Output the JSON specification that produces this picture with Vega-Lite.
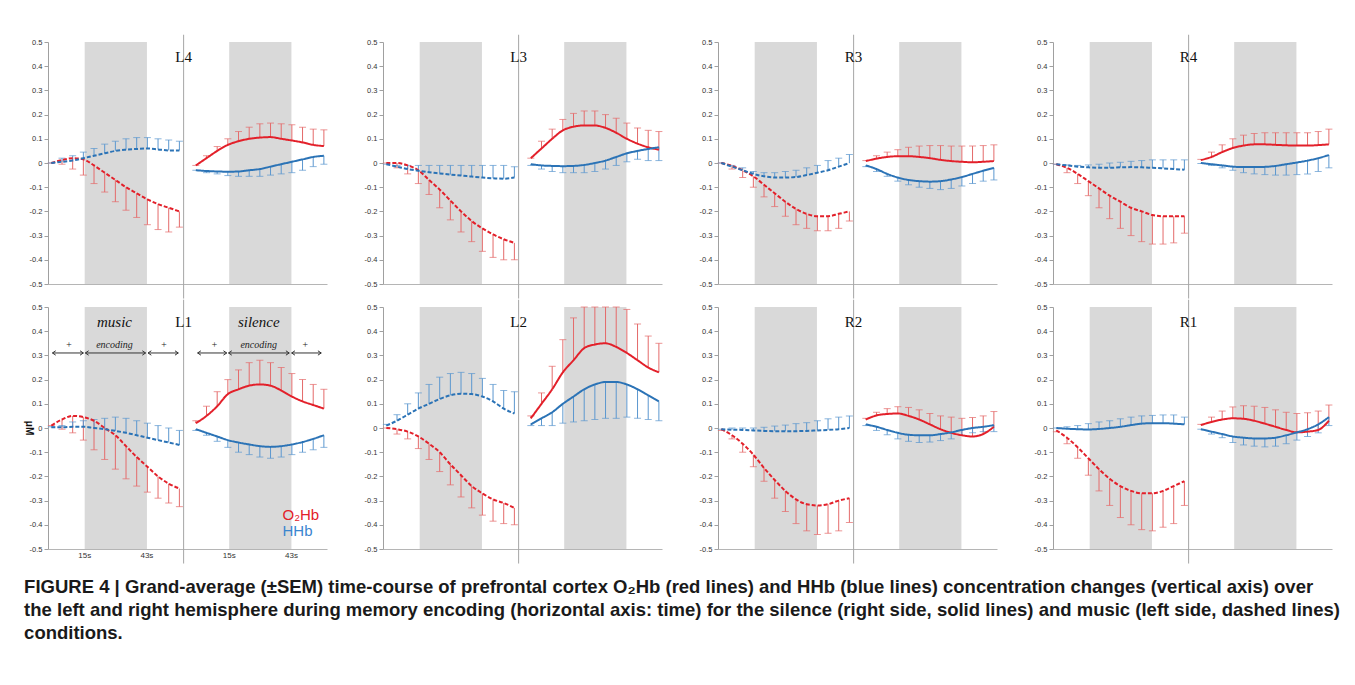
{
  "$schema": "https://vega.github.io/schema/vega-lite/v6.json",
  "background": "white",
  "padding": {"left": 24, "top": 34, "right": 10, "bottom": 5},
  "config": {
    "view": {"stroke": null},
    "axis": {"grid": false, "title": null},
    "axisY": {"labelOverlap": false},
    "axisQuantitative": {"labelOverlap": false},
    "header": {"labels": false, "title": null, "labelFontSize": 0, "labelPadding": 0},
    "headerFacet": {"labels": false, "title": null, "labelFontSize": 0, "labelPadding": 0}
  },
  "title": {
    "text": [
      "FIGURE 4 | Grand-average (±SEM) time-course of prefrontal cortex O₂Hb (red lines) and HHb (blue lines) concentration changes (vertical axis) over",
      "the left and right hemisphere during memory encoding (horizontal axis: time) for the silence (right side, solid lines) and music (left side, dashed lines)",
      "conditions."
    ],
    "orient": "bottom",
    "anchor": "start",
    "font": "Liberation Sans",
    "fontSize": 18.5,
    "fontWeight": "bold",
    "lineHeight": 23,
    "color": "#1a1a1a",
    "offset": 14
  },
  "data": {
    "values": [
      {"k":"s","p":"L4","c":"music","t":0,"o":0,"os":0,"h":0,"hs":0},
      {"k":"s","p":"L4","c":"music","t":4.8,"o":0.012,"os":-0.005,"h":0.005,"hs":0.02},
      {"k":"s","p":"L4","c":"music","t":9.6,"o":0.02,"os":-0.025,"h":0.01,"hs":0.03},
      {"k":"s","p":"L4","c":"music","t":14.4,"o":0.015,"os":-0.05,"h":0.02,"hs":0.045},
      {"k":"s","p":"L4","c":"music","t":19.2,"o":-0.01,"os":-0.085,"h":0.03,"hs":0.06},
      {"k":"s","p":"L4","c":"music","t":24,"o":-0.04,"os":-0.12,"h":0.04,"hs":0.078},
      {"k":"s","p":"L4","c":"music","t":28.8,"o":-0.07,"os":-0.16,"h":0.05,"hs":0.09},
      {"k":"s","p":"L4","c":"music","t":33.6,"o":-0.1,"os":-0.195,"h":0.055,"hs":0.1},
      {"k":"s","p":"L4","c":"music","t":38.4,"o":-0.125,"os":-0.225,"h":0.058,"hs":0.105},
      {"k":"s","p":"L4","c":"music","t":43.2,"o":-0.15,"os":-0.255,"h":0.06,"hs":0.105},
      {"k":"s","p":"L4","c":"music","t":48,"o":-0.17,"os":-0.275,"h":0.056,"hs":0.1},
      {"k":"s","p":"L4","c":"music","t":52.8,"o":-0.185,"os":-0.285,"h":0.052,"hs":0.095},
      {"k":"s","p":"L4","c":"music","t":57.6,"o":-0.2,"os":-0.265,"h":0.052,"hs":0.09},
      {"k":"s","p":"L4","c":"silence","t":65,"o":-0.01,"os":-0.01,"h":-0.03,"hs":-0.03},
      {"k":"s","p":"L4","c":"silence","t":69.8,"o":0.02,"os":0.03,"h":-0.033,"hs":-0.04},
      {"k":"s","p":"L4","c":"silence","t":74.6,"o":0.05,"os":0.068,"h":-0.035,"hs":-0.045},
      {"k":"s","p":"L4","c":"silence","t":79.4,"o":0.075,"os":0.1,"h":-0.036,"hs":-0.052},
      {"k":"s","p":"L4","c":"silence","t":84.2,"o":0.09,"os":0.13,"h":-0.035,"hs":-0.055},
      {"k":"s","p":"L4","c":"silence","t":89,"o":0.1,"os":0.148,"h":-0.03,"hs":-0.055},
      {"k":"s","p":"L4","c":"silence","t":93.8,"o":0.105,"os":0.162,"h":-0.025,"hs":-0.055},
      {"k":"s","p":"L4","c":"silence","t":98.6,"o":0.107,"os":0.165,"h":-0.015,"hs":-0.05},
      {"k":"s","p":"L4","c":"silence","t":103.4,"o":0.1,"os":0.162,"h":-0.005,"hs":-0.045},
      {"k":"s","p":"L4","c":"silence","t":108.2,"o":0.093,"os":0.158,"h":0.005,"hs":-0.04},
      {"k":"s","p":"L4","c":"silence","t":113,"o":0.085,"os":0.148,"h":0.015,"hs":-0.03},
      {"k":"s","p":"L4","c":"silence","t":117.8,"o":0.075,"os":0.14,"h":0.025,"hs":-0.015},
      {"k":"s","p":"L4","c":"silence","t":122.6,"o":0.07,"os":0.137,"h":0.03,"hs":-0.005},

      {"k":"s","p":"L3","c":"music","t":0,"o":0,"os":0,"h":-0.005,"hs":-0.005},
      {"k":"s","p":"L3","c":"music","t":4.8,"o":0,"os":-0.02,"h":-0.015,"hs":-0.01},
      {"k":"s","p":"L3","c":"music","t":9.6,"o":-0.01,"os":-0.045,"h":-0.025,"hs":-0.01},
      {"k":"s","p":"L3","c":"music","t":14.4,"o":-0.03,"os":-0.085,"h":-0.032,"hs":-0.01},
      {"k":"s","p":"L3","c":"music","t":19.2,"o":-0.07,"os":-0.13,"h":-0.038,"hs":-0.01},
      {"k":"s","p":"L3","c":"music","t":24,"o":-0.11,"os":-0.185,"h":-0.043,"hs":-0.01},
      {"k":"s","p":"L3","c":"music","t":28.8,"o":-0.155,"os":-0.235,"h":-0.048,"hs":-0.01},
      {"k":"s","p":"L3","c":"music","t":33.6,"o":-0.2,"os":-0.285,"h":-0.052,"hs":-0.01},
      {"k":"s","p":"L3","c":"music","t":38.4,"o":-0.24,"os":-0.325,"h":-0.056,"hs":-0.01},
      {"k":"s","p":"L3","c":"music","t":43.2,"o":-0.27,"os":-0.365,"h":-0.06,"hs":-0.01},
      {"k":"s","p":"L3","c":"music","t":48,"o":-0.295,"os":-0.39,"h":-0.063,"hs":-0.01},
      {"k":"s","p":"L3","c":"music","t":52.8,"o":-0.315,"os":-0.4,"h":-0.065,"hs":-0.01},
      {"k":"s","p":"L3","c":"music","t":57.6,"o":-0.33,"os":-0.4,"h":-0.06,"hs":-0.015},
      {"k":"s","p":"L3","c":"silence","t":65,"o":0.02,"os":0.02,"h":-0.005,"hs":-0.01},
      {"k":"s","p":"L3","c":"silence","t":69.8,"o":0.06,"os":0.09,"h":-0.01,"hs":-0.025},
      {"k":"s","p":"L3","c":"silence","t":74.6,"o":0.1,"os":0.14,"h":-0.012,"hs":-0.035},
      {"k":"s","p":"L3","c":"silence","t":79.4,"o":0.135,"os":0.18,"h":-0.013,"hs":-0.04},
      {"k":"s","p":"L3","c":"silence","t":84.2,"o":0.15,"os":0.205,"h":-0.012,"hs":-0.04},
      {"k":"s","p":"L3","c":"silence","t":89,"o":0.155,"os":0.215,"h":-0.008,"hs":-0.04},
      {"k":"s","p":"L3","c":"silence","t":93.8,"o":0.155,"os":0.215,"h":0,"hs":-0.035},
      {"k":"s","p":"L3","c":"silence","t":98.6,"o":0.145,"os":0.2,"h":0.01,"hs":-0.025},
      {"k":"s","p":"L3","c":"silence","t":103.4,"o":0.125,"os":0.185,"h":0.025,"hs":-0.01},
      {"k":"s","p":"L3","c":"silence","t":108.2,"o":0.1,"os":0.165,"h":0.04,"hs":0.005},
      {"k":"s","p":"L3","c":"silence","t":113,"o":0.08,"os":0.145,"h":0.05,"hs":0.015},
      {"k":"s","p":"L3","c":"silence","t":117.8,"o":0.065,"os":0.135,"h":0.058,"hs":0.01},
      {"k":"s","p":"L3","c":"silence","t":122.6,"o":0.055,"os":0.13,"h":0.065,"hs":0.01},

      {"k":"s","p":"R3","c":"music","t":0,"o":0,"os":0,"h":0,"hs":0},
      {"k":"s","p":"R3","c":"music","t":4.8,"o":-0.012,"os":-0.025,"h":-0.015,"hs":-0.01},
      {"k":"s","p":"R3","c":"music","t":9.6,"o":-0.03,"os":-0.06,"h":-0.03,"hs":-0.02},
      {"k":"s","p":"R3","c":"music","t":14.4,"o":-0.055,"os":-0.1,"h":-0.045,"hs":-0.035},
      {"k":"s","p":"R3","c":"music","t":19.2,"o":-0.09,"os":-0.14,"h":-0.055,"hs":-0.04},
      {"k":"s","p":"R3","c":"music","t":24,"o":-0.125,"os":-0.18,"h":-0.06,"hs":-0.04},
      {"k":"s","p":"R3","c":"music","t":28.8,"o":-0.16,"os":-0.22,"h":-0.06,"hs":-0.035},
      {"k":"s","p":"R3","c":"music","t":33.6,"o":-0.19,"os":-0.255,"h":-0.058,"hs":-0.03},
      {"k":"s","p":"R3","c":"music","t":38.4,"o":-0.21,"os":-0.27,"h":-0.05,"hs":-0.02},
      {"k":"s","p":"R3","c":"music","t":43.2,"o":-0.22,"os":-0.28,"h":-0.04,"hs":-0.01},
      {"k":"s","p":"R3","c":"music","t":48,"o":-0.22,"os":-0.28,"h":-0.03,"hs":0.01},
      {"k":"s","p":"R3","c":"music","t":52.8,"o":-0.21,"os":-0.27,"h":-0.015,"hs":0.02},
      {"k":"s","p":"R3","c":"music","t":57.6,"o":-0.2,"os":-0.24,"h":0,"hs":0.035},
      {"k":"s","p":"R3","c":"silence","t":65,"o":0.008,"os":0.01,"h":-0.01,"hs":-0.015},
      {"k":"s","p":"R3","c":"silence","t":69.8,"o":0.018,"os":0.03,"h":-0.025,"hs":-0.035},
      {"k":"s","p":"R3","c":"silence","t":74.6,"o":0.025,"os":0.045,"h":-0.045,"hs":-0.055},
      {"k":"s","p":"R3","c":"silence","t":79.4,"o":0.028,"os":0.055,"h":-0.06,"hs":-0.075},
      {"k":"s","p":"R3","c":"silence","t":84.2,"o":0.028,"os":0.065,"h":-0.07,"hs":-0.09},
      {"k":"s","p":"R3","c":"silence","t":89,"o":0.025,"os":0.07,"h":-0.075,"hs":-0.1},
      {"k":"s","p":"R3","c":"silence","t":93.8,"o":0.02,"os":0.072,"h":-0.077,"hs":-0.105},
      {"k":"s","p":"R3","c":"silence","t":98.6,"o":0.013,"os":0.072,"h":-0.075,"hs":-0.11},
      {"k":"s","p":"R3","c":"silence","t":103.4,"o":0.008,"os":0.07,"h":-0.068,"hs":-0.105},
      {"k":"s","p":"R3","c":"silence","t":108.2,"o":0.005,"os":0.07,"h":-0.058,"hs":-0.095},
      {"k":"s","p":"R3","c":"silence","t":113,"o":0.003,"os":0.07,"h":-0.045,"hs":-0.085},
      {"k":"s","p":"R3","c":"silence","t":117.8,"o":0.005,"os":0.072,"h":-0.032,"hs":-0.075},
      {"k":"s","p":"R3","c":"silence","t":122.6,"o":0.008,"os":0.075,"h":-0.02,"hs":-0.07},

      {"k":"s","p":"R4","c":"music","t":0,"o":-0.005,"os":-0.005,"h":-0.005,"hs":-0.005},
      {"k":"s","p":"R4","c":"music","t":4.8,"o":-0.02,"os":-0.04,"h":-0.01,"hs":-0.008},
      {"k":"s","p":"R4","c":"music","t":9.6,"o":-0.045,"os":-0.085,"h":-0.015,"hs":-0.01},
      {"k":"s","p":"R4","c":"music","t":14.4,"o":-0.075,"os":-0.135,"h":-0.018,"hs":-0.008},
      {"k":"s","p":"R4","c":"music","t":19.2,"o":-0.105,"os":-0.185,"h":-0.02,"hs":-0.005},
      {"k":"s","p":"R4","c":"music","t":24,"o":-0.135,"os":-0.23,"h":-0.02,"hs":0},
      {"k":"s","p":"R4","c":"music","t":28.8,"o":-0.16,"os":-0.27,"h":-0.018,"hs":0.003},
      {"k":"s","p":"R4","c":"music","t":33.6,"o":-0.185,"os":-0.3,"h":-0.017,"hs":0.007},
      {"k":"s","p":"R4","c":"music","t":38.4,"o":-0.2,"os":-0.325,"h":-0.018,"hs":0.01},
      {"k":"s","p":"R4","c":"music","t":43.2,"o":-0.215,"os":-0.335,"h":-0.02,"hs":0.013},
      {"k":"s","p":"R4","c":"music","t":48,"o":-0.22,"os":-0.335,"h":-0.022,"hs":0.013},
      {"k":"s","p":"R4","c":"music","t":52.8,"o":-0.22,"os":-0.33,"h":-0.025,"hs":0.013},
      {"k":"s","p":"R4","c":"music","t":57.6,"o":-0.22,"os":-0.29,"h":-0.028,"hs":0.013},
      {"k":"s","p":"R4","c":"silence","t":65,"o":0.012,"os":0.015,"h":0,"hs":-0.002},
      {"k":"s","p":"R4","c":"silence","t":69.8,"o":0.025,"os":0.045,"h":-0.005,"hs":-0.01},
      {"k":"s","p":"R4","c":"silence","t":74.6,"o":0.045,"os":0.075,"h":-0.01,"hs":-0.02},
      {"k":"s","p":"R4","c":"silence","t":79.4,"o":0.062,"os":0.1,"h":-0.015,"hs":-0.03},
      {"k":"s","p":"R4","c":"silence","t":84.2,"o":0.072,"os":0.115,"h":-0.017,"hs":-0.04},
      {"k":"s","p":"R4","c":"silence","t":89,"o":0.077,"os":0.122,"h":-0.017,"hs":-0.045},
      {"k":"s","p":"R4","c":"silence","t":93.8,"o":0.077,"os":0.125,"h":-0.016,"hs":-0.048},
      {"k":"s","p":"R4","c":"silence","t":98.6,"o":0.075,"os":0.125,"h":-0.012,"hs":-0.05},
      {"k":"s","p":"R4","c":"silence","t":103.4,"o":0.073,"os":0.125,"h":-0.005,"hs":-0.05},
      {"k":"s","p":"R4","c":"silence","t":108.2,"o":0.072,"os":0.125,"h":0.002,"hs":-0.048},
      {"k":"s","p":"R4","c":"silence","t":113,"o":0.072,"os":0.125,"h":0.01,"hs":-0.045},
      {"k":"s","p":"R4","c":"silence","t":117.8,"o":0.074,"os":0.13,"h":0.02,"hs":-0.035},
      {"k":"s","p":"R4","c":"silence","t":122.6,"o":0.077,"os":0.14,"h":0.033,"hs":-0.02},

      {"k":"s","p":"L1","c":"music","t":0,"o":0.01,"os":0.01,"h":0.003,"hs":0.005},
      {"k":"s","p":"L1","c":"music","t":4.8,"o":0.035,"os":-0.005,"h":0.003,"hs":0.01},
      {"k":"s","p":"L1","c":"music","t":9.6,"o":0.05,"os":-0.02,"h":0.005,"hs":0.025},
      {"k":"s","p":"L1","c":"music","t":14.4,"o":0.045,"os":-0.05,"h":0.005,"hs":0.03},
      {"k":"s","p":"L1","c":"music","t":19.2,"o":0.03,"os":-0.09,"h":0,"hs":0.035},
      {"k":"s","p":"L1","c":"music","t":24,"o":0,"os":-0.13,"h":-0.005,"hs":0.04},
      {"k":"s","p":"L1","c":"music","t":28.8,"o":-0.03,"os":-0.17,"h":-0.012,"hs":0.045},
      {"k":"s","p":"L1","c":"music","t":33.6,"o":-0.075,"os":-0.21,"h":-0.02,"hs":0.04},
      {"k":"s","p":"L1","c":"music","t":38.4,"o":-0.12,"os":-0.24,"h":-0.03,"hs":0.03},
      {"k":"s","p":"L1","c":"music","t":43.2,"o":-0.16,"os":-0.265,"h":-0.04,"hs":0.02},
      {"k":"s","p":"L1","c":"music","t":48,"o":-0.2,"os":-0.29,"h":-0.05,"hs":0.01},
      {"k":"s","p":"L1","c":"music","t":52.8,"o":-0.23,"os":-0.31,"h":-0.06,"hs":0},
      {"k":"s","p":"L1","c":"music","t":57.6,"o":-0.25,"os":-0.325,"h":-0.07,"hs":-0.01},
      {"k":"s","p":"L1","c":"silence","t":65,"o":0.02,"os":0.03,"h":-0.005,"hs":-0.01},
      {"k":"s","p":"L1","c":"silence","t":69.8,"o":0.05,"os":0.09,"h":-0.02,"hs":-0.03},
      {"k":"s","p":"L1","c":"silence","t":74.6,"o":0.09,"os":0.15,"h":-0.035,"hs":-0.055},
      {"k":"s","p":"L1","c":"silence","t":79.4,"o":0.14,"os":0.2,"h":-0.05,"hs":-0.08},
      {"k":"s","p":"L1","c":"silence","t":84.2,"o":0.16,"os":0.24,"h":-0.06,"hs":-0.1},
      {"k":"s","p":"L1","c":"silence","t":89,"o":0.175,"os":0.27,"h":-0.068,"hs":-0.11},
      {"k":"s","p":"L1","c":"silence","t":93.8,"o":0.18,"os":0.28,"h":-0.075,"hs":-0.12},
      {"k":"s","p":"L1","c":"silence","t":98.6,"o":0.175,"os":0.27,"h":-0.078,"hs":-0.125},
      {"k":"s","p":"L1","c":"silence","t":103.4,"o":0.155,"os":0.25,"h":-0.075,"hs":-0.12},
      {"k":"s","p":"L1","c":"silence","t":108.2,"o":0.13,"os":0.225,"h":-0.068,"hs":-0.11},
      {"k":"s","p":"L1","c":"silence","t":113,"o":0.11,"os":0.2,"h":-0.058,"hs":-0.1},
      {"k":"s","p":"L1","c":"silence","t":117.8,"o":0.095,"os":0.18,"h":-0.045,"hs":-0.09},
      {"k":"s","p":"L1","c":"silence","t":122.6,"o":0.08,"os":0.16,"h":-0.03,"hs":-0.08},

      {"k":"s","p":"L2","c":"music","t":0,"o":0,"os":0,"h":0.01,"hs":0.015},
      {"k":"s","p":"L2","c":"music","t":4.8,"o":-0.005,"os":-0.025,"h":0.03,"hs":0.055},
      {"k":"s","p":"L2","c":"music","t":9.6,"o":-0.015,"os":-0.045,"h":0.055,"hs":0.1},
      {"k":"s","p":"L2","c":"music","t":14.4,"o":-0.035,"os":-0.085,"h":0.08,"hs":0.145},
      {"k":"s","p":"L2","c":"music","t":19.2,"o":-0.065,"os":-0.13,"h":0.1,"hs":0.18},
      {"k":"s","p":"L2","c":"music","t":24,"o":-0.1,"os":-0.18,"h":0.12,"hs":0.21},
      {"k":"s","p":"L2","c":"music","t":28.8,"o":-0.15,"os":-0.235,"h":0.135,"hs":0.225},
      {"k":"s","p":"L2","c":"music","t":33.6,"o":-0.195,"os":-0.285,"h":0.142,"hs":0.23},
      {"k":"s","p":"L2","c":"music","t":38.4,"o":-0.24,"os":-0.33,"h":0.14,"hs":0.225},
      {"k":"s","p":"L2","c":"music","t":43.2,"o":-0.27,"os":-0.36,"h":0.13,"hs":0.205},
      {"k":"s","p":"L2","c":"music","t":48,"o":-0.295,"os":-0.385,"h":0.11,"hs":0.18},
      {"k":"s","p":"L2","c":"music","t":52.8,"o":-0.31,"os":-0.395,"h":0.08,"hs":0.155},
      {"k":"s","p":"L2","c":"music","t":57.6,"o":-0.33,"os":-0.4,"h":0.06,"hs":0.15},
      {"k":"s","p":"L2","c":"silence","t":65,"o":0.04,"os":0.05,"h":0.015,"hs":0.01},
      {"k":"s","p":"L2","c":"silence","t":69.8,"o":0.1,"os":0.145,"h":0.04,"hs":0.01},
      {"k":"s","p":"L2","c":"silence","t":74.6,"o":0.16,"os":0.255,"h":0.065,"hs":0.01},
      {"k":"s","p":"L2","c":"silence","t":79.4,"o":0.23,"os":0.365,"h":0.1,"hs":0.02},
      {"k":"s","p":"L2","c":"silence","t":84.2,"o":0.28,"os":0.455,"h":0.13,"hs":0.025},
      {"k":"s","p":"L2","c":"silence","t":89,"o":0.33,"os":0.5,"h":0.16,"hs":0.03},
      {"k":"s","p":"L2","c":"silence","t":93.8,"o":0.345,"os":0.5,"h":0.18,"hs":0.035},
      {"k":"s","p":"L2","c":"silence","t":98.6,"o":0.35,"os":0.5,"h":0.19,"hs":0.04},
      {"k":"s","p":"L2","c":"silence","t":103.4,"o":0.335,"os":0.5,"h":0.19,"hs":0.04},
      {"k":"s","p":"L2","c":"silence","t":108.2,"o":0.31,"os":0.49,"h":0.18,"hs":0.045},
      {"k":"s","p":"L2","c":"silence","t":113,"o":0.28,"os":0.43,"h":0.16,"hs":0.04},
      {"k":"s","p":"L2","c":"silence","t":117.8,"o":0.25,"os":0.38,"h":0.135,"hs":0.035},
      {"k":"s","p":"L2","c":"silence","t":122.6,"o":0.23,"os":0.35,"h":0.11,"hs":0.03},

      {"k":"s","p":"R2","c":"music","t":0,"o":-0.005,"os":-0.01,"h":-0.005,"hs":-0.005},
      {"k":"s","p":"R2","c":"music","t":4.8,"o":-0.03,"os":-0.045,"h":-0.007,"hs":0},
      {"k":"s","p":"R2","c":"music","t":9.6,"o":-0.065,"os":-0.1,"h":-0.008,"hs":0},
      {"k":"s","p":"R2","c":"music","t":14.4,"o":-0.11,"os":-0.16,"h":-0.01,"hs":0},
      {"k":"s","p":"R2","c":"music","t":19.2,"o":-0.165,"os":-0.22,"h":-0.012,"hs":0.003},
      {"k":"s","p":"R2","c":"music","t":24,"o":-0.215,"os":-0.29,"h":-0.013,"hs":0.008},
      {"k":"s","p":"R2","c":"music","t":28.8,"o":-0.26,"os":-0.345,"h":-0.013,"hs":0.012},
      {"k":"s","p":"R2","c":"music","t":33.6,"o":-0.295,"os":-0.395,"h":-0.013,"hs":0.018},
      {"k":"s","p":"R2","c":"music","t":38.4,"o":-0.315,"os":-0.425,"h":-0.012,"hs":0.022},
      {"k":"s","p":"R2","c":"music","t":43.2,"o":-0.32,"os":-0.44,"h":-0.01,"hs":0.03},
      {"k":"s","p":"R2","c":"music","t":48,"o":-0.315,"os":-0.435,"h":-0.008,"hs":0.038},
      {"k":"s","p":"R2","c":"music","t":52.8,"o":-0.3,"os":-0.425,"h":-0.005,"hs":0.045},
      {"k":"s","p":"R2","c":"music","t":57.6,"o":-0.29,"os":-0.39,"h":0,"hs":0.05},
      {"k":"s","p":"R2","c":"silence","t":65,"o":0.035,"os":0.04,"h":0.015,"hs":0.01},
      {"k":"s","p":"R2","c":"silence","t":69.8,"o":0.052,"os":0.065,"h":0.005,"hs":-0.01},
      {"k":"s","p":"R2","c":"silence","t":74.6,"o":0.058,"os":0.08,"h":-0.008,"hs":-0.028},
      {"k":"s","p":"R2","c":"silence","t":79.4,"o":0.06,"os":0.088,"h":-0.02,"hs":-0.045},
      {"k":"s","p":"R2","c":"silence","t":84.2,"o":0.05,"os":0.085,"h":-0.028,"hs":-0.055},
      {"k":"s","p":"R2","c":"silence","t":89,"o":0.035,"os":0.075,"h":-0.03,"hs":-0.06},
      {"k":"s","p":"R2","c":"silence","t":93.8,"o":0.015,"os":0.06,"h":-0.03,"hs":-0.058},
      {"k":"s","p":"R2","c":"silence","t":98.6,"o":-0.005,"os":0.05,"h":-0.025,"hs":-0.052},
      {"k":"s","p":"R2","c":"silence","t":103.4,"o":-0.02,"os":0.045,"h":-0.018,"hs":-0.045},
      {"k":"s","p":"R2","c":"silence","t":108.2,"o":-0.03,"os":0.04,"h":-0.008,"hs":-0.03},
      {"k":"s","p":"R2","c":"silence","t":113,"o":-0.035,"os":0.043,"h":0,"hs":-0.02},
      {"k":"s","p":"R2","c":"silence","t":117.8,"o":-0.025,"os":0.05,"h":0.005,"hs":-0.015},
      {"k":"s","p":"R2","c":"silence","t":122.6,"o":0.005,"os":0.068,"h":0.012,"hs":-0.015},

      {"k":"s","p":"R1","c":"music","t":0,"o":-0.01,"os":-0.015,"h":0,"hs":0},
      {"k":"s","p":"R1","c":"music","t":4.8,"o":-0.04,"os":-0.065,"h":-0.003,"hs":0.005},
      {"k":"s","p":"R1","c":"music","t":9.6,"o":-0.08,"os":-0.125,"h":-0.005,"hs":0.01},
      {"k":"s","p":"R1","c":"music","t":14.4,"o":-0.125,"os":-0.195,"h":-0.006,"hs":0.018},
      {"k":"s","p":"R1","c":"music","t":19.2,"o":-0.17,"os":-0.26,"h":-0.004,"hs":0.025},
      {"k":"s","p":"R1","c":"music","t":24,"o":-0.21,"os":-0.32,"h":0,"hs":0.03},
      {"k":"s","p":"R1","c":"music","t":28.8,"o":-0.24,"os":-0.37,"h":0.005,"hs":0.038},
      {"k":"s","p":"R1","c":"music","t":33.6,"o":-0.26,"os":-0.4,"h":0.012,"hs":0.045},
      {"k":"s","p":"R1","c":"music","t":38.4,"o":-0.27,"os":-0.42,"h":0.018,"hs":0.05},
      {"k":"s","p":"R1","c":"music","t":43.2,"o":-0.27,"os":-0.425,"h":0.02,"hs":0.052},
      {"k":"s","p":"R1","c":"music","t":48,"o":-0.26,"os":-0.41,"h":0.02,"hs":0.054},
      {"k":"s","p":"R1","c":"music","t":52.8,"o":-0.24,"os":-0.395,"h":0.018,"hs":0.054},
      {"k":"s","p":"R1","c":"music","t":57.6,"o":-0.22,"os":-0.32,"h":0.015,"hs":0.045},
      {"k":"s","p":"R1","c":"silence","t":65,"o":0.012,"os":0.015,"h":-0.005,"hs":-0.005},
      {"k":"s","p":"R1","c":"silence","t":69.8,"o":0.025,"os":0.045,"h":-0.015,"hs":-0.025},
      {"k":"s","p":"R1","c":"silence","t":74.6,"o":0.035,"os":0.07,"h":-0.025,"hs":-0.04},
      {"k":"s","p":"R1","c":"silence","t":79.4,"o":0.04,"os":0.087,"h":-0.035,"hs":-0.06},
      {"k":"s","p":"R1","c":"silence","t":84.2,"o":0.038,"os":0.092,"h":-0.04,"hs":-0.07},
      {"k":"s","p":"R1","c":"silence","t":89,"o":0.03,"os":0.09,"h":-0.043,"hs":-0.075},
      {"k":"s","p":"R1","c":"silence","t":93.8,"o":0.018,"os":0.085,"h":-0.043,"hs":-0.078},
      {"k":"s","p":"R1","c":"silence","t":98.6,"o":0.005,"os":0.075,"h":-0.04,"hs":-0.075},
      {"k":"s","p":"R1","c":"silence","t":103.4,"o":-0.008,"os":0.065,"h":-0.03,"hs":-0.065},
      {"k":"s","p":"R1","c":"silence","t":108.2,"o":-0.018,"os":0.06,"h":-0.018,"hs":-0.05},
      {"k":"s","p":"R1","c":"silence","t":113,"o":-0.015,"os":0.063,"h":-0.005,"hs":-0.035},
      {"k":"s","p":"R1","c":"silence","t":117.8,"o":-0.008,"os":0.07,"h":0.015,"hs":-0.02},
      {"k":"s","p":"R1","c":"silence","t":122.6,"o":0.03,"os":0.095,"h":0.045,"hs":0.01},

      {"k":"band","p":"L4","x":15,"x2":43},{"k":"band","p":"L4","x":80,"x2":108},
      {"k":"band","p":"L3","x":15,"x2":43},{"k":"band","p":"L3","x":80,"x2":108},
      {"k":"band","p":"R3","x":15,"x2":43},{"k":"band","p":"R3","x":80,"x2":108},
      {"k":"band","p":"R4","x":15,"x2":43},{"k":"band","p":"R4","x":80,"x2":108},
      {"k":"band","p":"L1","x":15,"x2":43},{"k":"band","p":"L1","x":80,"x2":108},
      {"k":"band","p":"L2","x":15,"x2":43},{"k":"band","p":"L2","x":80,"x2":108},
      {"k":"band","p":"R2","x":15,"x2":43},{"k":"band","p":"R2","x":80,"x2":108},
      {"k":"band","p":"R1","x":15,"x2":43},{"k":"band","p":"R1","x":80,"x2":108},

      {"k":"div","p":"L4","x":59.5},{"k":"div","p":"L3","x":59.5},
      {"k":"div","p":"R3","x":59.5},{"k":"div","p":"R4","x":59.5},
      {"k":"div","p":"L1","x":59.5},{"k":"div","p":"L2","x":59.5},
      {"k":"div","p":"R2","x":59.5},{"k":"div","p":"R1","x":59.5},

      {"k":"word","p":"L1","x":28.4,"y":0.44,"txt":"music"},
      {"k":"word","p":"L1","x":93.3,"y":0.44,"txt":"silence"},
      {"k":"small","p":"L1","x":7.9,"y":0.345,"txt":"+"},
      {"k":"small","p":"L1","x":28.4,"y":0.345,"txt":"encoding"},
      {"k":"small","p":"L1","x":50.6,"y":0.345,"txt":"+"},
      {"k":"small","p":"L1","x":73.3,"y":0.345,"txt":"+"},
      {"k":"small","p":"L1","x":93.3,"y":0.345,"txt":"encoding"},
      {"k":"small","p":"L1","x":114.2,"y":0.345,"txt":"+"},
      {"k":"arr","p":"L1","x":0.5,"x2":14.4,"y":0.31},
      {"k":"arr","p":"L1","x":15.3,"x2":42.4,"y":0.31},
      {"k":"arr","p":"L1","x":43.5,"x2":57.1,"y":0.31},
      {"k":"arr","p":"L1","x":65.8,"x2":78.9,"y":0.31},
      {"k":"arr","p":"L1","x":79.7,"x2":107,"y":0.31},
      {"k":"arr","p":"L1","x":108.1,"x2":121.4,"y":0.31},
      {"k":"leg","p":"L1","x":104,"y":-0.36,"txt":"O₂Hb","hb":"O2Hb"},
      {"k":"leg","p":"L1","x":104,"y":-0.425,"txt":"HHb","hb":"HHb"},
      {"k":"xl","p":"L1","x":15,"txt":"15s"},
      {"k":"xl","p":"L1","x":43,"txt":"43s"},
      {"k":"xl","p":"L1","x":80,"txt":"15s"},
      {"k":"xl","p":"L1","x":108,"txt":"43s"},
      {"k":"unit","p":"L1","x":-10,"y":0,"txt":"μM"}
    ]
  },
  "facet": {
    "field": "p",
    "type": "nominal",
    "sort": ["L4", "L3", "R3", "R4", "L1", "L2", "R2", "R1"],
    "header": {"labels": false, "title": null, "labelFontSize": 0, "labelPadding": 0, "labelExpr": "''"}
  },
  "columns": 4,
  "bounds": "flush",
  "spacing": {"column": 56, "row": 23},
  "resolve": {"axis": {"x": "independent", "y": "independent"}},
  "spec": {
    "width": 279,
    "height": 242,
    "encoding": {
      "y": {
        "type": "quantitative", "title": null,
        "scale": {"domain": [-0.5, 0.5], "nice": false, "zero": false},
        "axis": {
          "values": [-0.5, -0.4, -0.3, -0.2, -0.1, 0, 0.1, 0.2, 0.3, 0.4, 0.5],
          "labelExpr": "toString(round(datum.value * 10) / 10)",
          "labelFont": "Liberation Sans", "labelFontSize": 7.5, "labelColor": "#333",
          "labelOverlap": false, "labelBound": false,
          "labelPadding": 2, "tickSize": 4, "tickColor": "#a0a0a0",
          "domainColor": "#a0a0a0", "grid": false
        }
      }
    },
    "layer": [
      {
        "transform": [{"filter": "datum.k === 'band'"}],
        "mark": {"type": "rect", "color": "#d9d9d9"},
        "encoding": {
          "x": {
            "field": "x", "type": "quantitative", "title": null,
            "scale": {"domain": [-1.5, 124], "nice": false, "zero": false},
            "axis": {"labels": false, "ticks": false, "grid": false, "domainColor": "#b5b5b5"}
          },
          "x2": {"field": "x2"},
          "y": {"datum": 0.5, "type": "quantitative"},
          "y2": {"datum": -0.5}
        }
      },
      {
        "transform": [{"filter": "datum.k === 'div'"}],
        "mark": {"type": "rule", "color": "#a6a6a6", "strokeWidth": 1},
        "encoding": {
          "x": {"field": "x", "type": "quantitative", "title": null},
          "y": {"datum": 0.53, "type": "quantitative"},
          "y2": {"datum": -0.56}
        }
      },
      {
        "transform": [{"filter": "datum.k === 'div'"}],
        "mark": {"type": "text", "font": "Liberation Serif", "fontSize": 15, "color": "#111"},
        "encoding": {
          "x": {"field": "x", "type": "quantitative", "title": null},
          "y": {"datum": 0.44, "type": "quantitative"},
          "text": {"field": "p"}
        }
      },
      {
        "transform": [{"filter": "datum.k === 's'"}],
        "mark": {"type": "rule", "color": "#e46a6a", "strokeWidth": 1},
        "encoding": {
          "x": {"field": "t", "type": "quantitative", "title": null},
          "y": {"field": "o", "type": "quantitative"},
          "y2": {"field": "os"}
        }
      },
      {
        "transform": [{"filter": "datum.k === 's'"}],
        "mark": {"type": "tick", "orient": "horizontal", "color": "#e46a6a", "size": 7, "thickness": 1},
        "encoding": {
          "x": {"field": "t", "type": "quantitative", "title": null},
          "y": {"field": "os", "type": "quantitative"}
        }
      },
      {
        "transform": [{"filter": "datum.k === 's'"}],
        "mark": {"type": "rule", "color": "#5b97cf", "strokeWidth": 1},
        "encoding": {
          "x": {"field": "t", "type": "quantitative", "title": null},
          "y": {"field": "h", "type": "quantitative"},
          "y2": {"field": "hs"}
        }
      },
      {
        "transform": [{"filter": "datum.k === 's'"}],
        "mark": {"type": "tick", "orient": "horizontal", "color": "#5b97cf", "size": 7, "thickness": 1},
        "encoding": {
          "x": {"field": "t", "type": "quantitative", "title": null},
          "y": {"field": "hs", "type": "quantitative"}
        }
      },
      {
        "transform": [{"filter": "datum.k === 's'"}],
        "mark": {"type": "line", "color": "#e3202a", "strokeWidth": 2, "interpolate": "monotone"},
        "encoding": {
          "x": {"field": "t", "type": "quantitative", "title": null},
          "y": {"field": "o", "type": "quantitative"},
          "detail": {"field": "c"},
          "strokeDash": {
            "field": "c", "type": "nominal", "legend": null,
            "scale": {"domain": ["music", "silence"], "range": [[4, 2], [1, 0]]}
          }
        }
      },
      {
        "transform": [{"filter": "datum.k === 's'"}],
        "mark": {"type": "line", "color": "#2b73b6", "strokeWidth": 2, "interpolate": "monotone"},
        "encoding": {
          "x": {"field": "t", "type": "quantitative", "title": null},
          "y": {"field": "h", "type": "quantitative"},
          "detail": {"field": "c"},
          "strokeDash": {
            "condition": {"test": "datum.p === 'R1'", "value": [1, 0]},
            "field": "c", "type": "nominal", "legend": null,
            "scale": {"domain": ["music", "silence"], "range": [[4, 2], [1, 0]]}
          }
        }
      },
      {
        "transform": [{"filter": "datum.k === 'word'"}],
        "mark": {"type": "text", "font": "Liberation Serif", "fontSize": 15, "fontStyle": "italic", "color": "#111"},
        "encoding": {
          "x": {"field": "x", "type": "quantitative", "title": null},
          "y": {"field": "y", "type": "quantitative"},
          "text": {"field": "txt"}
        }
      },
      {
        "transform": [{"filter": "datum.k === 'small'"}],
        "mark": {"type": "text", "font": "Liberation Serif", "fontSize": 10, "fontStyle": "italic", "color": "#222"},
        "encoding": {
          "x": {"field": "x", "type": "quantitative", "title": null},
          "y": {"field": "y", "type": "quantitative"},
          "text": {"field": "txt"}
        }
      },
      {
        "transform": [{"filter": "datum.k === 'arr'"}],
        "mark": {"type": "rule", "color": "#333", "strokeWidth": 1},
        "encoding": {
          "x": {"field": "x", "type": "quantitative", "title": null},
          "x2": {"field": "x2"},
          "y": {"field": "y", "type": "quantitative"}
        }
      },
      {
        "transform": [{"filter": "datum.k === 'arr'"}],
        "mark": {"type": "point", "shape": "M1.2,-0.8L0,0L1.2,0.8", "filled": false, "color": "#333", "strokeWidth": 1, "size": 30, "opacity": 1},
        "encoding": {
          "x": {"field": "x", "type": "quantitative", "title": null},
          "y": {"field": "y", "type": "quantitative"}
        }
      },
      {
        "transform": [{"filter": "datum.k === 'arr'"}],
        "mark": {"type": "point", "shape": "M-1.2,-0.8L0,0L-1.2,0.8", "filled": false, "color": "#333", "strokeWidth": 1, "size": 30, "opacity": 1},
        "encoding": {
          "x": {"field": "x2", "type": "quantitative", "title": null},
          "y": {"field": "y", "type": "quantitative"}
        }
      },
      {
        "transform": [{"filter": "datum.k === 'leg'"}],
        "mark": {"type": "text", "font": "Liberation Sans", "fontSize": 15, "align": "left"},
        "encoding": {
          "x": {"field": "x", "type": "quantitative", "title": null},
          "y": {"field": "y", "type": "quantitative"},
          "text": {"field": "txt"},
          "color": {"condition": {"test": "datum.hb === 'O2Hb'", "value": "#e3202a"}, "value": "#3a86cf"}
        }
      },
      {
        "transform": [{"filter": "datum.k === 'xl'"}],
        "mark": {"type": "text", "font": "Liberation Sans", "fontSize": 8, "baseline": "top", "dy": 3, "color": "#333"},
        "encoding": {
          "x": {"field": "x", "type": "quantitative", "title": null},
          "y": {"datum": -0.5, "type": "quantitative"},
          "text": {"field": "txt"}
        }
      },
      {
        "transform": [{"filter": "datum.k === 'unit'"}],
        "mark": {"type": "text", "font": "Liberation Sans", "fontSize": 10, "fontWeight": "bold", "angle": 90, "color": "#111"},
        "encoding": {
          "x": {"field": "x", "type": "quantitative", "title": null},
          "y": {"field": "y", "type": "quantitative"},
          "text": {"field": "txt"}
        }
      }
    ]
  }
}
